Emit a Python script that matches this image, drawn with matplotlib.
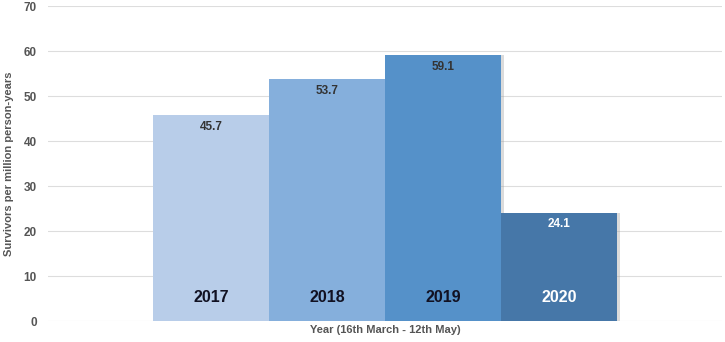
import matplotlib
matplotlib.use("Agg")
import matplotlib.pyplot as plt
from matplotlib import font_manager

years = ["2017", "2018", "2019", "2020"]
values = [45.7, 53.7, 59.1, 24.1]
colors = ["#b8cde9", "#85afdc", "#5591c9", "#4677a8"]
value_colors = ["#333333", "#333333", "#333333", "#ffffff"]
year_colors = ["#111122", "#111122", "#111122", "#ffffff"]
yticks = [0, 10, 20, 30, 40, 50, 60, 70]

names = {f.name for f in font_manager.fontManager.ttflist}
narrow = "Liberation Sans Narrow" if "Liberation Sans Narrow" in names else "Liberation Sans"

fig = plt.figure(figsize=(7.25, 3.42), dpi=100)
ax = fig.add_axes([0.066, 0.0614, 0.93, 0.921])

x = list(range(len(years)))
# subtle shadow
ax.bar([i + 0.03 for i in x], values, width=1.0, color="#999999", alpha=0.35, zorder=2, linewidth=0)
ax.bar(x, values, width=1.0, color=colors, zorder=3, linewidth=0)

for i, v in enumerate(values):
    ax.text(i, v - 2.6, f"{v}", ha="center", va="center", fontsize=8.5, fontweight="bold",
            color=value_colors[i], family=["Liberation Sans", "DejaVu Sans"], zorder=4)
    ax.text(i, 5.3, years[i], ha="center", va="center", fontsize=11.5, fontweight="bold",
            color=year_colors[i], family=[narrow, "DejaVu Sans"], zorder=4)

ax.set_xlim(-1.41, 4.41)
ax.set_ylim(0, 70)
ax.set_yticks(yticks)
ax.set_xticks([])
ax.grid(axis="y", color="#dddddd", linewidth=0.8, zorder=0)
ax.set_axisbelow(True)
for s in ax.spines.values():
    s.set_visible(False)
ax.tick_params(axis="y", length=0, pad=8, labelsize=8.5, labelcolor="#555555")
for lbl in ax.get_yticklabels():
    lbl.set_fontweight("bold")
    lbl.set_family("Liberation Sans")
ax.set_ylabel("Survivors per million person-years", fontsize=8, fontweight="bold",
              color="#555555", family="Liberation Sans", labelpad=7)
ax.set_xlabel("Year (16th March - 12th May)", fontsize=8, fontweight="bold",
              color="#555555", family="Liberation Sans", labelpad=3)

fig.savefig("out.png", dpi=100, facecolor="white")
